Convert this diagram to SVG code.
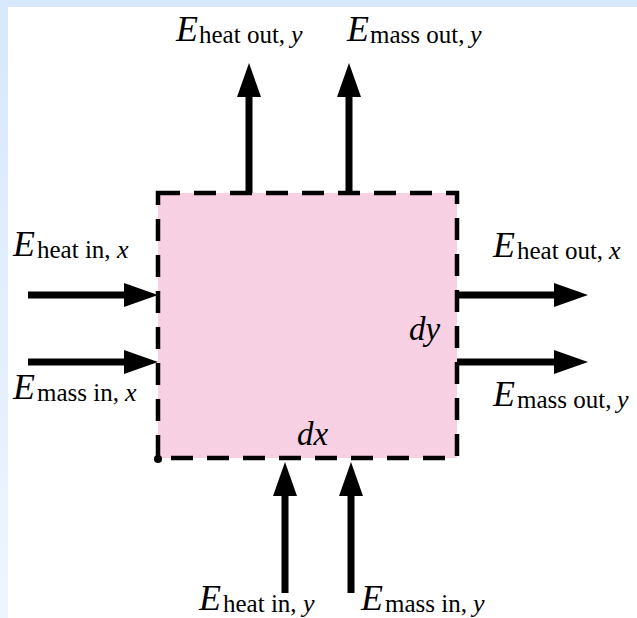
<svg xmlns="http://www.w3.org/2000/svg" width="637" height="618" viewBox="0 0 637 618">
  <defs>
    <linearGradient id="bgL" x1="0" y1="0" x2="0" y2="1">
      <stop offset="0" stop-color="#d7e8fc"/>
      <stop offset="1" stop-color="#eef5fe"/>
    </linearGradient>
    <marker id="ah" markerUnits="userSpaceOnUse" markerWidth="34" markerHeight="24" refX="0" refY="12" orient="auto" viewBox="0 0 34 24">
      <path d="M0,0 L34,12 L0,24 Z" fill="#000"/>
    </marker>
    <style>
      .E { font-family: "Liberation Serif", "Times New Roman", serif; font-style: italic; font-size: 36px; fill: #000; }
      .sub { font-family: "Liberation Serif", "Times New Roman", serif; font-size: 25px; fill: #000; }
      .var { font-family: "Liberation Serif", "Times New Roman", serif; font-style: italic; font-size: 26px; fill: #000; }
      .dim { font-family: "Liberation Serif", "Times New Roman", serif; font-style: italic; font-size: 33px; fill: #000; }
      .arrow { stroke: #000; stroke-width: 7; fill: none; marker-end: url(#ah); }
    </style>
  </defs>

  <rect x="0" y="0" width="637" height="618" fill="url(#bgL)"/>
  <rect x="8" y="7" width="629" height="611" fill="#ffffff"/>

  <g id="control-volume">
    <rect x="158" y="193" width="299" height="265" fill="#f8d0e4" stroke="#000" stroke-width="4.5" stroke-dasharray="22 14"/>
    <circle cx="158" cy="459" r="4" fill="#000"/>
    <text class="dim" x="297" y="445">dx</text>
    <text class="dim" x="409" y="340">dy</text>
  </g>

  <g id="connectors">
    <line class="arrow" x1="249" y1="193" x2="249" y2="97"/>
    <line class="arrow" x1="349" y1="193" x2="349" y2="97"/>
    <line class="arrow" x1="28" y1="295" x2="124" y2="295"/>
    <line class="arrow" x1="28" y1="362" x2="124" y2="362"/>
    <line class="arrow" x1="457" y1="295" x2="554" y2="295"/>
    <line class="arrow" x1="457" y1="362" x2="554" y2="362"/>
    <line class="arrow" x1="285" y1="593" x2="285" y2="496"/>
    <line class="arrow" x1="351" y1="593" x2="351" y2="496"/>
  </g>

  <g id="label-heat-out-y">
    <text class="E" x="176" y="41">E</text>
    <text class="sub" x="199" y="43">heat out,</text>
    <text class="var" x="291" y="43">y</text>
  </g>
  <g id="label-mass-out-y-top">
    <text class="E" x="347" y="41">E</text>
    <text class="sub" x="370" y="43">mass out,</text>
    <text class="var" x="470" y="43">y</text>
  </g>
  <g id="label-heat-in-x">
    <text class="E" x="13" y="256">E</text>
    <text class="sub" x="37" y="258">heat in,</text>
    <text class="var" x="117" y="258">x</text>
  </g>
  <g id="label-mass-in-x">
    <text class="E" x="13" y="399">E</text>
    <text class="sub" x="37" y="401">mass in,</text>
    <text class="var" x="125" y="401">x</text>
  </g>
  <g id="label-heat-out-x">
    <text class="E" x="493" y="257">E</text>
    <text class="sub" x="517" y="259">heat out,</text>
    <text class="var" x="609" y="259">x</text>
  </g>
  <g id="label-mass-out-y-right">
    <text class="E" x="493" y="406">E</text>
    <text class="sub" x="517" y="408">mass out,</text>
    <text class="var" x="617" y="408">y</text>
  </g>
  <g id="label-heat-in-y">
    <text class="E" x="199" y="610">E</text>
    <text class="sub" x="223" y="612">heat in,</text>
    <text class="var" x="303" y="612">y</text>
  </g>
  <g id="label-mass-in-y">
    <text class="E" x="361" y="610">E</text>
    <text class="sub" x="385" y="612">mass in,</text>
    <text class="var" x="473" y="612">y</text>
  </g>
</svg>
